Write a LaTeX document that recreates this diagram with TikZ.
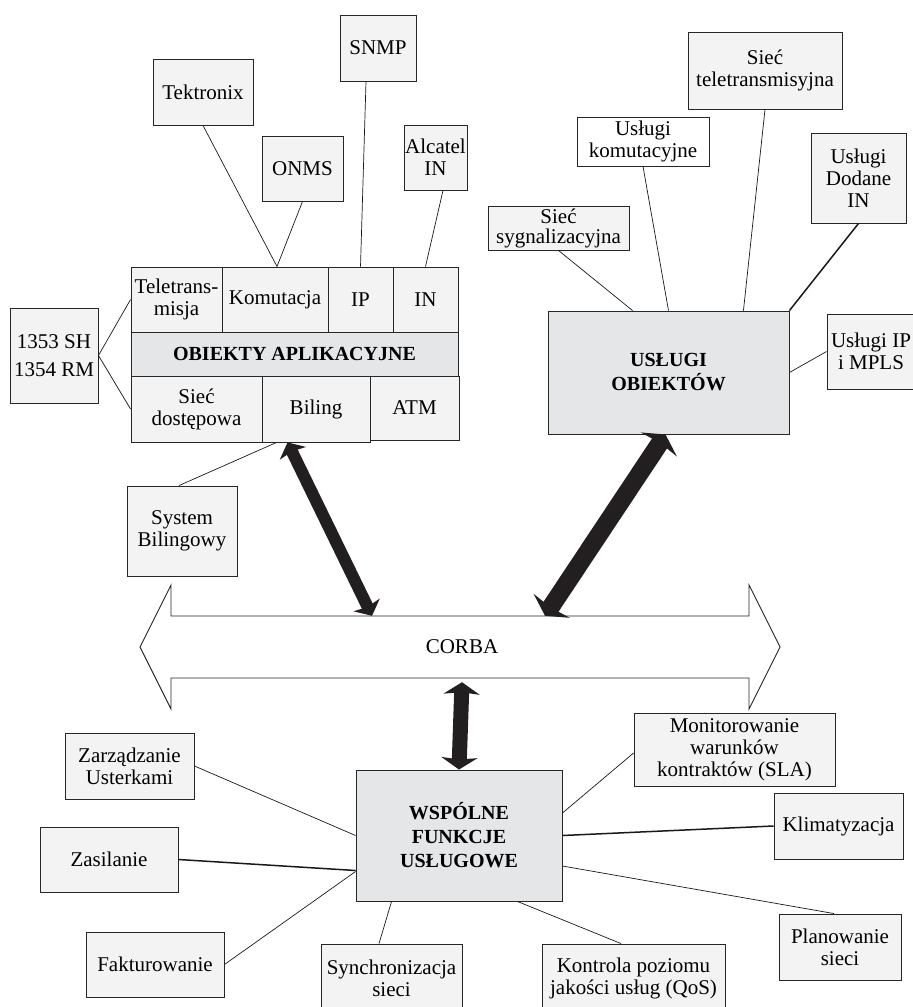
\documentclass[tikz,border=0pt]{standalone}
\usepackage{fontspec}
\setmainfont{Liberation Serif}
\usetikzlibrary{arrows.meta}
\definecolor{boxfill}{HTML}{F3F3F3}
\definecolor{mainfill}{HTML}{E5E6E7}
\definecolor{fatblack}{HTML}{231F20}
\tikzset{
  box/.style={draw=black!85, line width=0.9pt, fill=boxfill, align=center,
    inner sep=0pt, font=\fontsize{21}{22}\selectfont},
  mainbox/.style={box, fill=mainfill, font=\fontsize{20}{24}\selectfont\bfseries},
  wh/.style 2 args={minimum width=#1pt, minimum height=#2pt},
  link/.style={draw=black!90, line width=0.7pt},
  boldlink/.style={draw=black!90, line width=1.5pt},
  fatarrow/.style={draw=fatblack, line width=#1,
    {Stealth[length=12pt, width=0pt 2.4, inset=2pt]}-{Stealth[length=12pt, width=0pt 2.4, inset=2pt]}}
}
\begin{document}
\begin{tikzpicture}[x=1pt,y=-1pt]
      \useasboundingbox (0,0) rectangle (913,1007);
      \node[box, wh={100}{66}] (tek) at (203,92) {Tektronix};
      \node[box, wh={81}{65}] (onms) at (302.5,168.5) {ONMS};
      \node[box, wh={76}{66}] (snmp) at (378,48) {SNMP};
      \node[box, wh={63}{65}] (alc) at (435.5,157.5) {Alcatel\\IN};
      \node[box, wh={91}{65}] (tele) at (176.5,299.5) {Teletrans-\\misja};
      \node[box, wh={106}{65}] (kom) at (275,299.5) {Komutacja};
      \node[box, wh={65}{65}] (ip) at (360.5,299.5) {IP};
      \node[box, wh={65}{65}] (in) at (425.5,299.5) {IN};
      \node[mainbox, wh={327}{44}] (obj) at (294.5,354) {OBIEKTY APLIKACYJNE};
      \node[box, wh={131}{66}] (dost) at (196.5,409) {Sieć\\dostępowa};
      \node[box, wh={108}{66}] (bil) at (316,409) {Biling};
      \node[box, wh={89}{64}] (atm) at (414.5,408) {ATM};
      \node[box, wh={88}{95}, font=\fontsize{21}{28}\selectfont] (rm) at (54,355.5) {1353 SH\\1354 RM};
      \node[box, wh={110}{90}] (sysbil) at (182,531) {System\\Bilingowy};
      \node[box, wh={154}{77}] (stele) at (765,70.5) {Sieć\\teletransmisyjna};
      \node[box, wh={132}{49}, fill=white] (ukom) at (643,141.5) {Usługi\\komutacyjne};
      \node[box, wh={95}{90}] (udod) at (858.5,178) {Usługi\\Dodane\\IN};
      \node[box, wh={141}{44}, font=\fontsize{21}{20}\selectfont] (ssyg) at (558.5,228) {Sieć\\sygnalizacyjna};
      \node[box, wh={88}{75}] (uip) at (871,351.5) {Usługi IP\\i MPLS};
      \node[mainbox, wh={241}{123}] (uobj) at (668.5,372.5) {USŁUGI\\OBIEKTÓW};
      \node[wh={578}{62}, font=\fontsize{21}{22}\selectfont] (corba) at (462,647) {CORBA};
      \draw[draw=black!85, line width=0.9pt] (171,616) -- (749,616) -- (749,585) -- (780,647)
        -- (749,709) -- (749,678) -- (171,678) -- (171,709) -- (140,647) -- (171,585) -- cycle;
      \node[mainbox, wh={206}{131}] (wsp) at (459,835.5) {WSPÓLNE\\FUNKCJE\\USŁUGOWE};
      \node[box, wh={129}{66}] (zarz) at (129.5,766) {Zarządzanie\\Usterkami};
      \node[box, wh={138}{65}] (zas) at (109,859.5) {Zasilanie};
      \node[box, wh={138}{65}] (fakt) at (155,964.5) {Fakturowanie};
      \node[box, wh={141}{68}] (sync) at (391.5,978) {Synchronizacja\\sieci};
      \node[box, wh={183}{68}] (kontr) at (633.5,978) {Kontrola poziomu\\jakości usług (QoS)};
      \node[box, wh={122}{66}] (plan) at (840,947) {Planowanie\\sieci};
      \node[box, wh={129}{66}] (klim) at (838.5,826) {Klimatyzacja};
      \node[box, wh={201}{73}] (mon) at (734.5,749.5) {Monitorowanie\\warunków\\kontraktów (SLA)};
      \draw[link] (tek.south) -- ([xshift=2pt]kom.north);
      \draw[link] (onms.south) -- ([xshift=2pt]kom.north);
      \draw[link] ([xshift=-12pt]snmp.south) -- (ip.north);
      \draw[link] ([xshift=7.5pt]alc.south) -- (in.north);
      \draw[link] (rm.east) -- (tele.west);
      \draw[link] (rm.east) -- (dost.west);
      \draw[link] ([xshift=-3pt]sysbil.north) -- ([xshift=15pt]bil.south west);
      \draw[link] (ssyg.south) -- ([xshift=85pt]uobj.north west);
      \draw[link] (ukom.south) -- (uobj.north);
      \draw[link] (stele.south) -- ([xshift=-46pt]uobj.north east);
      \draw[boldlink] (udod.south) -- (uobj.north east);
      \draw[link] (uip.west) -- (uobj.east);
      \draw[link] (zarz.east) -- (wsp.west);
      \draw[boldlink] (zas.east) -- ([yshift=-35pt]wsp.west);
      \draw[link] (fakt.east) -- ([yshift=-36pt]wsp.west);
      \draw[link] ([xshift=-12.5pt]sync.north) -- ([xshift=36pt]wsp.south west);
      \draw[link] ([xshift=-12.5pt]kontr.north) -- ([xshift=-45pt]wsp.south east);
      \draw[link] ([xshift=-6pt]plan.north) -- ([yshift=-30.5pt]wsp.east);
      \draw[boldlink] (klim.west) -- (wsp.east);
      \draw[link] ([yshift=-3.5pt]mon.west) -- ([yshift=22.5pt]wsp.east);
      \draw[fatarrow=12pt] ([xshift=26pt]bil.south west) -- ([xshift=-90pt]corba.north);
      \draw[fatarrow=18pt] ([xshift=-3pt]uobj.south) -- ([xshift=83pt]corba.north);
      \draw[fatarrow=15pt] ([yshift=-4pt]corba.south) -- (wsp.north);
\end{tikzpicture}
\end{document}
